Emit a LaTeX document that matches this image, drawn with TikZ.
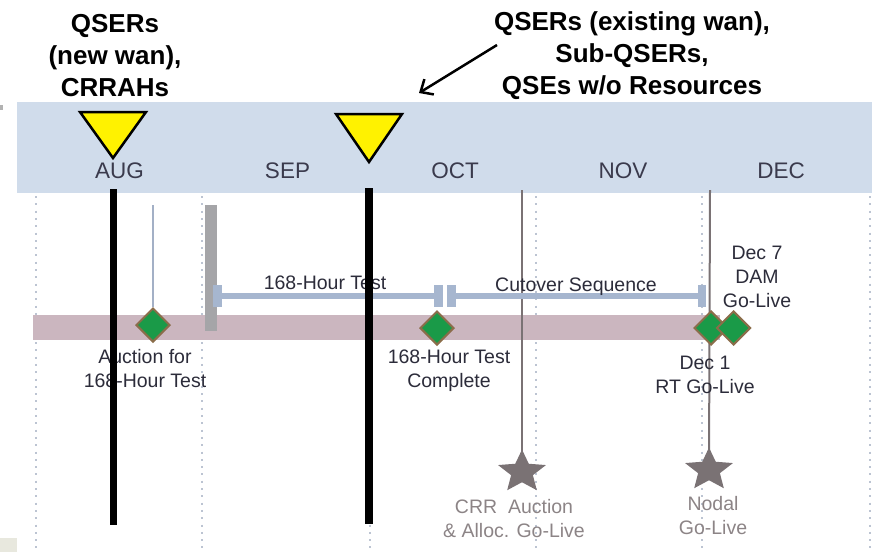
\documentclass[tikz,border=0pt]{standalone}
\usepackage{fontspec}
\setmainfont{Liberation Sans}
\usetikzlibrary{shapes.geometric,arrows.meta}
\definecolor{bandblue}{HTML}{D0DCEB}
\definecolor{bandpink}{HTML}{CBB6BF}
\definecolor{monthtxt}{HTML}{3A3A4C}
\definecolor{lbltxt}{HTML}{2C2C3A}
\definecolor{startxt}{HTML}{8C8486}
\definecolor{msgreen}{HTML}{1A9A48}
\definecolor{msbrown}{HTML}{8B6D4A}
\definecolor{stargray}{HTML}{7A7274}
\definecolor{gridc}{HTML}{BCC4D2}
\definecolor{barblue}{HTML}{A6B6CF}
\definecolor{thinblue}{HTML}{A3B0C6}
\definecolor{graybar}{HTML}{A5A5A8}
\definecolor{beige}{HTML}{E8E8DE}
\begin{document}
\begin{tikzpicture}[x=1pt,y=-1pt,
  toptext/.style={font=\fontsize{26}{32}\selectfont\bfseries, align=center, text=black, inner sep=0},
  month/.style={font=\fontsize{22.5}{26}\selectfont, text=monthtxt, anchor=base, inner sep=0},
  lbl/.style={font=\fontsize{19.5}{24}\selectfont, text=lbltxt, align=center, inner sep=0},
  starlbl/.style={lbl, text=startxt},
  ms/.style={diamond, fill=msgreen, draw=msbrown, line width=2, minimum size=34, inner sep=0},
  bigstar/.style={star, star points=5, star point ratio=2.2, fill=stargray, inner sep=0, minimum size=45, xscale=1.12, transform shape},
  gridline/.style={draw=gridc, line width=2, dash pattern=on 2pt off 5.3pt},
  barcap/.style={fill=barblue, minimum width=8.5, minimum height=22, inner sep=0},
  barline/.style={draw=barblue, line width=6.5},
  stem/.style={draw=stargray, line width=2},
  marker/.style={fill=black},
  tri/.style={fill=yellow, draw=black, line width=2.5, line join=miter},
]
\useasboundingbox (0,0) rectangle (872,552);
% header band
\fill[bandblue] (17,102) rectangle (872,193);
\fill[beige] (0,538) rectangle (17,552);
\fill[gray!60] (0,105) rectangle (3,110);
% dotted grid
\foreach \gx in {36,202,370,536,702,870}
  \draw[gridline] (\gx,196) -- (\gx,552);
% months
\node[month] (aug) at (119.5,178) {AUG};
\node[month] (sep) at (287.5,178) {SEP};
\node[month] (oct) at (455,178) {OCT};
\node[month] (nov) at (623,178) {NOV};
\node[month] (dec) at (781,178) {DEC};
% pink band
\fill[bandpink] (33,315) rectangle (720,340);
% star stems
\coordinate (st1top) at (522,190);
\coordinate (st2top) at (710,190);
\coordinate (star1c) at (522,472);
\coordinate (star2c) at (709,470);
\draw[stem] (st1top) -- (star1c);
\draw[stem] (st2top) -- (star2c);
\node[bigstar] (star1) at (star1c) {};
\node[bigstar] (star2) at (star2c) {};
% thin stem for auction
\node[ms] (d1) at (153,325) {};
\coordinate (d1top) at (153,205);
\draw[thinblue, line width=2] (d1top) -- (d1.north);
% gray bar
\fill[graybar] (205,205) rectangle (217,331);
% duration bars
\node[barcap] (c1) at (217.5,296) {};
\node[barcap] (c2) at (438.5,296) {};
\node[barcap] (c3) at (451.5,296) {};
\node[barcap] (c4) at (702,296) {};
\draw[barline] (c1) -- (c2);
\draw[barline] (c3) -- (c4);
\node[lbl, anchor=base] (l168) at (325,289) {168-Hour Test};
\node[lbl, anchor=base] (lcut) at (576,291) {Cutover Sequence};
% milestones
\node[ms] (d2) at (437,328) {};
\node[ms] (d3) at (711,328) {};
\node[ms] (d4) at (733.5,328) {};
\node[lbl] (a1) at (145,369) {Auction for\\168-Hour Test};
\node[lbl] (a2) at (449,371) {168-Hour Test\\Complete};
\node[lbl] (a3) at (705,375) {Dec 1\\RT Go-Live};
\node[lbl] (a4) at (757,277) {Dec 7\\DAM\\Go-Live};
\node[starlbl] (s1l) at (514,519) {CRR\ \ Auction\\\& Alloc. Go-Live};
\node[starlbl] (s2l) at (713,516) {Nodal\\Go-Live};
% black marker bars
\fill[marker] (110,189) rectangle (117,525);
\fill[marker] (365,188) rectangle (373,524);
% yellow triangles
\draw[tri] (80,112) -- (146,112) -- (113,158) -- cycle;
\draw[tri] (336,114) -- (402,114) -- (369,162) -- cycle;
% top texts
\node[toptext] (tl) at (115,56) {QSERs\\(new wan),\\CRRAHs};
\node[toptext] (tr) at (632,56) {QSERs (existing wan),\\Sub-QSERs,\\QSEs w/o Resources};
\coordinate (arrs) at (497,45);
\coordinate (arre) at (419,93);
\draw[black, line width=2.5, -{Straight Barb[length=10pt,width=18pt]}] (arrs) -- (arre);
\end{tikzpicture}
\end{document}
